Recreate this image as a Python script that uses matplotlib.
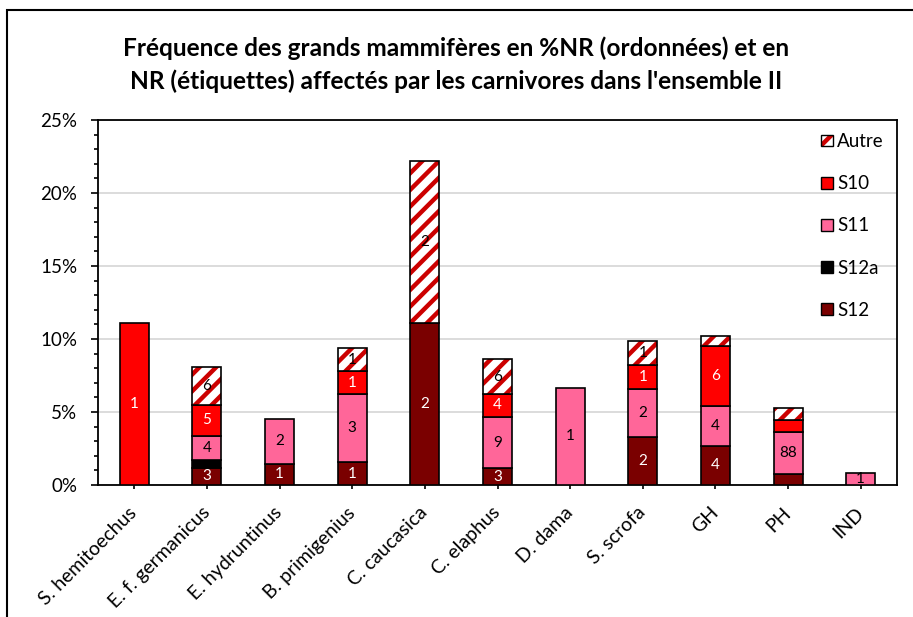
import matplotlib
matplotlib.use("Agg")
import matplotlib.pyplot as plt
from matplotlib.patches import Patch, Rectangle
from matplotlib.legend_handler import HandlerTuple
from matplotlib.ticker import MultipleLocator, PercentFormatter
import numpy as np

categories = ["S. hemitoechus", "E. f. germanicus", "E. hydruntinus", "B. primigenius",
              "C. caucasica", "C. elaphus", "D. dama", "S. scrofa", "GH", "PH", "IND"]

# %NR per level (stack order bottom -> top)
s12   = [0.00, 1.19, 1.46, 1.55, 11.11, 1.14, 0.00, 3.28, 2.69, 0.73, 0.00]
s12a  = [0.00, 0.52, 0.00, 0.00, 0.00, 0.00, 0.00, 0.00, 0.00, 0.00, 0.00]
s11   = [0.00, 1.65, 3.04, 4.66, 0.00, 3.54, 6.67, 3.28, 2.72, 2.92, 0.84]
s10   = [11.11, 2.12, 0.00, 1.59, 0.00, 1.55, 0.00, 1.64, 4.11, 0.80, 0.00]
autre = [0.00, 2.58, 0.00, 1.56, 11.11, 2.40, 0.00, 1.64, 0.71, 0.80, 0.00]

# NR counts written on the segments
s12_nr   = [None, 3, 1, 1, 2, 3, None, 2, 4, None, None]
s12a_nr  = [None] * 11
s11_nr   = [None, 4, 2, 3, None, 9, 1, 2, 4, 88, 1]
s10_nr   = [1, 5, None, 1, None, 4, None, 1, 6, None, None]
autre_nr = [None, 6, None, 1, 2, 6, None, 1, None, None, None]

yticks = [0, 5, 10, 15, 20, 25]

FONT = ["Lato", "DejaVu Sans"]
plt.rcParams["font.family"] = FONT
plt.rcParams["hatch.linewidth"] = 3.2

C_S12 = "#7A0000"
C_S12A = "#000000"
C_S11 = "#FF6699"
C_S10 = "#FF0000"
C_HATCH = "#CC0000"

fig = plt.figure(figsize=(9.13, 6.17), dpi=100)
ax = fig.add_axes([98 / 913, 1 - 485 / 617, 799 / 913, 365 / 617])

x = np.arange(len(categories))
w = 0.4
bottom = np.zeros(len(categories))

series = [
    ("S12", s12, C_S12, s12_nr, "white"),
    ("S12a", s12a, C_S12A, s12a_nr, "white"),
    ("S11", s11, C_S11, s11_nr, "black"),
    ("S10", s10, C_S10, s10_nr, "white"),
]

for name, vals, col, nr, tcol in series:
    vals = np.array(vals)
    mask = vals > 0
    ax.bar(x[mask], vals[mask], w, bottom=bottom[mask], color=col,
           edgecolor="black", linewidth=1.2, zorder=3)
    for i in np.where(mask)[0]:
        if nr[i] is not None:
            ax.text(x[i], bottom[i] + vals[i] / 2, str(nr[i]), ha="center", va="center",
                    fontsize=11, color=tcol, zorder=5)
    bottom = bottom + vals

# hatched "Autre" segment: stripes first, black outline on top
av = np.array(autre)
mask = av > 0
ax.bar(x[mask], av[mask], w, bottom=bottom[mask], color="white", edgecolor=C_HATCH,
       hatch="//", linewidth=0, zorder=3)
ax.bar(x[mask], av[mask], w, bottom=bottom[mask], fill=False, edgecolor="black",
       linewidth=1.2, zorder=4)
for i in np.where(mask)[0]:
    if autre_nr[i] is not None:
        ax.text(x[i], bottom[i] + av[i] / 2, str(autre_nr[i]), ha="center", va="center",
                fontsize=11, color="black", zorder=5)

ax.set_xlim(-0.5, len(categories) - 0.5)
ax.set_ylim(0, 25)
ax.set_yticks(yticks)
ax.yaxis.set_minor_locator(MultipleLocator(1))
ax.yaxis.set_major_formatter(PercentFormatter(decimals=0))
ax.grid(axis="y", color="#D9D9D9", linewidth=1.3, zorder=0)
ax.set_axisbelow(True)

ax.set_xticks(x)
ax.set_xticklabels(categories, rotation=45, ha="right", va="center",
                   rotation_mode="anchor", fontsize=14)
ax.tick_params(axis="x", direction="out", length=3, width=1.2, pad=15)
ax.tick_params(axis="y", which="major", direction="out", length=5, width=1.2,
               labelsize=13.5, pad=10)
ax.tick_params(axis="y", which="minor", direction="out", length=3, width=1.2)
for sp in ax.spines.values():
    sp.set_linewidth(1.3)
    sp.set_color("black")

autre_handle = (Patch(facecolor="white", edgecolor=C_HATCH, hatch="/", linewidth=0),
                Patch(fill=False, edgecolor="black", linewidth=1))
handles = [
    autre_handle,
    Patch(facecolor=C_S10, edgecolor="black", linewidth=1),
    Patch(facecolor=C_S11, edgecolor="black", linewidth=1),
    Patch(facecolor=C_S12A, edgecolor="black", linewidth=1),
    Patch(facecolor=C_S12, edgecolor="black", linewidth=1),
]
leg = ax.legend(handles, ["Autre", "S10", "S11", "S12a", "S12"], loc="upper right",
                bbox_to_anchor=(1.0, 1.0), frameon=False, fontsize=13.5,
                handlelength=0.6, handleheight=0.6, handletextpad=0.25,
                labelspacing=1.34, borderaxespad=0.3,
                handler_map={tuple: HandlerTuple(ndivide=1, pad=0)})

fig.text(0.5, 1 - 65 / 617,
         "Fréquence des grands mammifères en %NR (ordonnées) et en\n"
         "NR (étiquettes) affectés par les carnivores dans l'ensemble II",
         ha="center", va="center", fontsize=17.6, fontweight="bold", linespacing=1.5)

fig.add_artist(Rectangle((7 / 913, -0.1), 1.2, 1.1 - 10 / 617, transform=fig.transFigure,
                         fill=False, edgecolor="black", linewidth=1.5, clip_on=False))

fig.savefig("out.png", dpi=100)
